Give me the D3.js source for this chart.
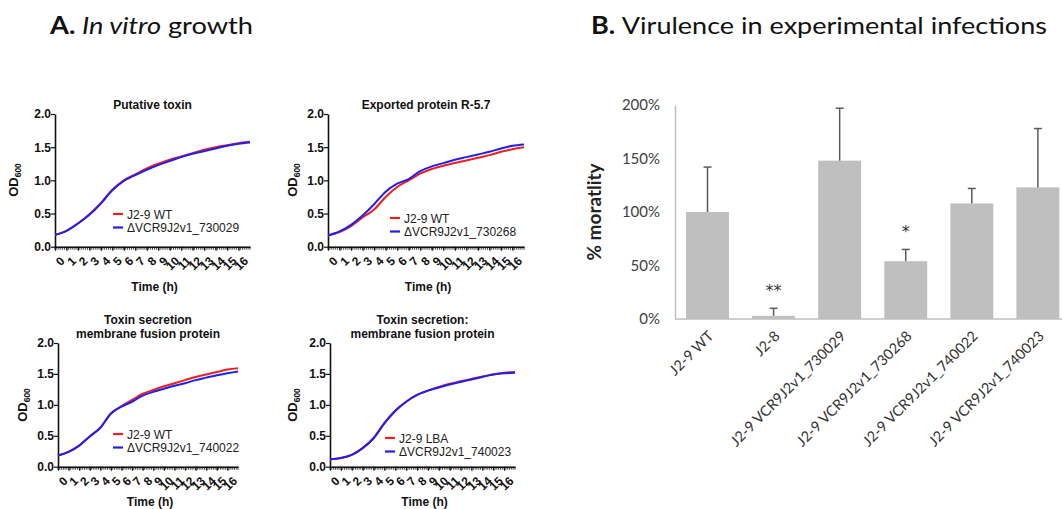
<!DOCTYPE html>
<html><head><meta charset="utf-8">
<script src="https://cdn.jsdelivr.net/npm/d3@7"></script>
<style>
html,body{margin:0;padding:0;background:#fff;}
svg{display:block;}
</style>
</head><body>
<svg id="c" width="1062" height="509"></svg>
<script>
// ---------- DATA ----------
const hours = [0,1,2,3,4,5,6,7,8,9,10,11,12,13,14,15,16,17];
const hourTicks = [0,1,2,3,4,5,6,7,8,9,10,11,12,13,14,15,16];
const odTicks = [0,0.5,1.0,1.5,2.0];

const p1Red  = [0.18,0.24,0.35,0.49,0.66,0.86,1.00,1.09,1.18,1.25,1.31,1.36,1.41,1.46,1.50,1.53,1.56,1.58];
const p1Blue = [0.18,0.24,0.35,0.48,0.65,0.85,0.99,1.08,1.16,1.23,1.29,1.35,1.40,1.44,1.48,1.52,1.55,1.57];
const p2Red  = [0.17,0.22,0.31,0.44,0.56,0.75,0.90,1.00,1.10,1.17,1.22,1.26,1.30,1.34,1.38,1.43,1.47,1.50];
const p2Blue = [0.17,0.23,0.33,0.47,0.64,0.83,0.95,1.02,1.14,1.21,1.26,1.31,1.35,1.39,1.43,1.48,1.52,1.54];
const p3Red  = [0.18,0.24,0.34,0.49,0.63,0.86,0.98,1.08,1.18,1.24,1.30,1.35,1.40,1.45,1.49,1.53,1.57,1.59];
const p3Blue = [0.18,0.24,0.34,0.49,0.63,0.86,0.97,1.05,1.15,1.21,1.26,1.31,1.35,1.40,1.44,1.48,1.51,1.54];
const p4Red  = [0.12,0.14,0.19,0.30,0.46,0.71,0.91,1.05,1.16,1.23,1.29,1.34,1.38,1.42,1.46,1.49,1.52,1.53];
const p4Blue = [0.12,0.14,0.19,0.30,0.46,0.70,0.90,1.05,1.16,1.23,1.28,1.33,1.37,1.41,1.45,1.49,1.51,1.52];

const panelTitles = [["Putative toxin"],["Exported protein R-5.7"],["Toxin secretion","membrane fusion protein"],["Toxin secretion:","membrane fusion protein"]];
const legendRed = ["J2-9 WT","J2-9 WT","J2-9 WT","J2-9 LBA"];
const legendBlue = ["\u0394VCR9J2v1_730029","\u0394VCR9J2v1_730268","\u0394VCR9J2v1_740022","\u0394VCR9J2v1_740023"];

const strains = ["J2-9 WT","J2-8","J2-9 VCR9J2v1_730029","J2-9 VCR9J2v1_730268","J2-9 VCR9J2v1_740022","J2-9 VCR9J2v1_740023"];
const mortality = [100,3,148,54,108,123];
const mortalityErr = [142,10,197,65,122,178];
const significance = ["","**","","*","",""];
const pctTicks = [0,50,100,150,200];

// ---------- LAYOUT ----------
const svg = d3.select("#c");
const smallFont = "'Liberation Sans', Arial, sans-serif";
const bigFont = "Lato, 'Open Sans', sans-serif";

// Titles
const tA = svg.append("text").attr("x",50).attr("y",34).attr("font-family",bigFont).attr("font-size",24).attr("fill","#111")
  .attr("textLength",203).attr("lengthAdjust","spacingAndGlyphs");
tA.append("tspan").attr("font-weight","bold").text("A. ");
tA.append("tspan").attr("font-style","italic").text("In vitro");
tA.append("tspan").text(" growth");
const tB = svg.append("text").attr("x",591).attr("y",34).attr("font-family",bigFont).attr("font-size",24).attr("fill","#111")
  .attr("textLength",456).attr("lengthAdjust","spacingAndGlyphs");
tB.append("tspan").attr("font-weight","bold").text("B. ");
tB.append("tspan").text("Virulence in experimental infections");

const panels = [
  {x0:55, x1:250, yT:114, yB:246.7, titleY:[109], timeY:291, odX:16, odY:180, legX:113, legY:214, red:p1Red, blue:p1Blue},
  {x0:328, x1:524, yT:114, yB:246.7, titleY:[109], timeY:291, odX:295, odY:180, legX:390, legY:218, red:p2Red, blue:p2Blue},
  {x0:58, x1:238, yT:343, yB:466.7, titleY:[324,338], timeY:506, odX:25, odY:405, legX:113, legY:434, red:p3Red, blue:p3Blue},
  {x0:330, x1:515, yT:343, yB:466.7, titleY:[324,338], timeY:506, odX:295, odY:405, legX:385, legY:438, red:p4Red, blue:p4Blue}
];

panels.forEach((p,i)=>{
  const g = svg.append("g");
  const x = d3.scaleLinear().domain([0,17]).range([p.x0,p.x1]);
  const y = d3.scaleLinear().domain([0,2]).range([p.yB,p.yT]);

  // title
  panelTitles[i].forEach((t,j)=>{
    g.append("text").attr("x",(p.x0+p.x1)/2).attr("y",p.titleY[j]).attr("text-anchor","middle")
      .attr("font-family",smallFont).attr("font-weight","bold").attr("font-size",12).attr("fill","#111").text(t);
  });

  // minor x ticks
  const minor = d3.range(0,17.001,1/6);
  g.selectAll(".mt").data(minor).join("line")
    .attr("x1",d=>x(d)).attr("x2",d=>x(d)).attr("y1",p.yB).attr("y2",p.yB+3)
    .attr("stroke","#111").attr("stroke-width",0.8);

  // x axis
  const xa = g.append("g").attr("transform",`translate(0,${p.yB})`)
    .call(d3.axisBottom(x).tickValues(hourTicks).tickSize(4).tickSizeOuter(0).tickFormat(d3.format("d")));
  xa.select(".domain").attr("stroke","#111").attr("stroke-width",1.6);
  xa.selectAll(".tick line").attr("stroke","#111").attr("stroke-width",1.2);
  xa.selectAll(".tick text").attr("font-family",smallFont).attr("font-weight","bold").attr("font-size",12).attr("fill","#111")
    .attr("text-anchor","end").attr("dy",0).attr("transform","translate(5,10) rotate(-45)");

  // y axis
  const ya = g.append("g").attr("transform",`translate(${p.x0},0)`)
    .call(d3.axisLeft(y).tickValues(odTicks).tickSize(4).tickSizeOuter(0).tickFormat(d3.format(".1f")));
  ya.select(".domain").attr("stroke","#111").attr("stroke-width",1.6);
  ya.selectAll(".tick line").attr("stroke","#111").attr("stroke-width",1.2);
  ya.selectAll(".tick text").attr("font-family",smallFont).attr("font-weight","bold").attr("font-size",12).attr("fill","#111").attr("x",-4);

  // OD600 label
  const od = g.append("text").attr("transform",`translate(${p.odX+2},${p.odY}) rotate(-90)`).attr("text-anchor","middle")
    .attr("font-family",smallFont).attr("font-weight","bold").attr("font-size",13).attr("fill","#111");
  od.append("tspan").text("OD");
  od.append("tspan").attr("font-size",8.5).attr("dy",3).text("600");

  // Time label
  g.append("text").attr("x",(p.x0+p.x1)/2 + 2).attr("y",p.timeY).attr("text-anchor","middle")
    .attr("font-family",smallFont).attr("font-weight","bold").attr("font-size",12).attr("fill","#111").text("Time (h)");

  // curves
  const line = d3.line().x((d,k)=>x(hours[k])).y(d=>y(d)).curve(d3.curveMonotoneX);
  g.append("path").datum(p.red).attr("d",line).attr("fill","none").attr("stroke","#f21d1d").attr("stroke-width",2);
  g.append("path").datum(p.blue).attr("d",line).attr("fill","none").attr("stroke","#1f1ff0").attr("stroke-width",2);

  // legend
  [[legendRed[i],"#f21d1d"],[legendBlue[i],"#1f1ff0"]].forEach((l,j)=>{
    const ly = p.legY + j*13.5;
    g.append("line").attr("x1",p.legX).attr("x2",p.legX+10).attr("y1",ly).attr("y2",ly).attr("stroke",l[1]).attr("stroke-width",2.2);
    g.append("text").attr("x",p.legX+14).attr("y",ly+4.5).attr("font-family",smallFont).attr("font-size",12).attr("fill","#222").text(l[0]);
  });
});

// ---------- BAR CHART ----------
const bx = d3.scaleBand().domain(strains).range([675, 675+6*65.9]).paddingInner(0.35).paddingOuter(0.167);
const by = d3.scaleLinear().domain([0,200]).range([319,105]);
const bg = svg.append("g");

bg.selectAll(".bar").data(mortality).join("rect")
  .attr("x",(d,i)=>bx(strains[i])).attr("width",bx.bandwidth())
  .attr("y",d=>by(d)).attr("height",d=>by(0)-by(d)).attr("fill","#bfbfbf");

// error bars
mortality.forEach((v,i)=>{
  const cx = bx(strains[i]) + bx.bandwidth()/2;
  bg.append("line").attr("x1",cx).attr("x2",cx).attr("y1",by(v)).attr("y2",by(mortalityErr[i])).attr("stroke","#5a5a5a").attr("stroke-width",1.5);
  bg.append("line").attr("x1",cx-4).attr("x2",cx+4).attr("y1",by(mortalityErr[i])).attr("y2",by(mortalityErr[i])).attr("stroke","#5a5a5a").attr("stroke-width",1.5);
  if (significance[i]) {
    bg.append("text").attr("x",cx).attr("y",by(mortalityErr[i]) - 12).attr("text-anchor","middle")
      .attr("font-family","'DejaVu Sans', sans-serif").attr("font-size",16).attr("fill","#333").text(significance[i]);
  }
});

// axes
const bya = bg.append("g").attr("transform","translate(675,0)")
  .call(d3.axisLeft(by).tickValues(pctTicks).tickSize(0).tickPadding(15).tickFormat(d=>d+"%"));
bya.select(".domain").attr("stroke","#bfbfbf").attr("stroke-width",1.5);
bya.selectAll(".tick text").attr("font-family",bigFont).attr("font-size",15).attr("fill","#404040");

const bxa = bg.append("g").attr("transform","translate(0,319)")
  .call(d3.axisBottom(bx).tickSize(0).tickSizeOuter(0));
bxa.select(".domain").attr("stroke","#bfbfbf").attr("stroke-width",1.5).attr("d","M675,0H1062");
bxa.selectAll(".tick text").attr("font-family",bigFont).attr("font-size",14.5).attr("fill","#333")
  .attr("text-anchor","end").attr("dy",0).attr("y",0).attr("transform","translate(7,18) rotate(-45)");

// y label
bg.append("text").attr("transform","translate(601,212) rotate(-90)").attr("text-anchor","middle")
  .attr("font-family",bigFont).attr("font-weight","bold").attr("font-size",19).attr("fill","#222").text("% moratlity");
</script>
</body></html>
